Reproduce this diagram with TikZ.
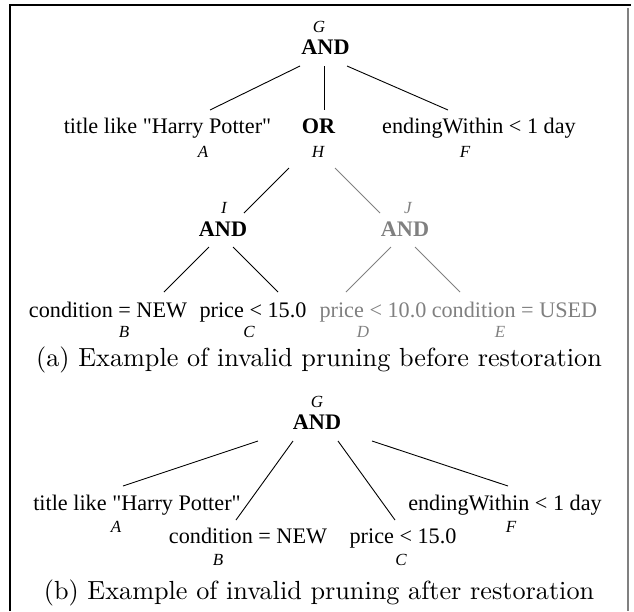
\documentclass[tikz,border=0pt]{standalone}
\usepackage{fontspec}
\usepackage{tikz}
\usetikzlibrary{calc}
\newfontfamily\treefont{Liberation Serif}
\newfontfamily\capfont{lmroman10-regular.otf}
\definecolor{prunedgray}{gray}{0.5}

\begin{document}
\begin{tikzpicture}[x=1pt,y=-1pt,
			op node/.style={font=\treefont\fontsize{22.2}{24}\selectfont\bfseries,inner sep=0pt,anchor=base},
			leaf node/.style={font=\treefont\fontsize{22.2}{24}\selectfont,inner sep=0pt,anchor=base},
			tag node/.style={font=\treefont\fontsize{17}{18}\selectfont\itshape,inner sep=0pt,anchor=base},
			caption node/.style={font=\capfont\fontsize{26.2}{30}\selectfont,inner sep=0pt,anchor=base},
			pruned/.style={prunedgray},
			branch/.style={line width=0.9pt}]
			\useasboundingbox (0,0) rectangle (634,611);
			\draw[line width=1.3pt] (10,611) -- (10,5) -- (631,5);
			\draw[line width=1.3pt, prunedgray] (628,8) -- (628,611);
			
			\node[tag node] (lG) at (319,32) {G};
			\node[op node] (G) at (325.5,54) {AND};
			\node[leaf node] (A) at (167.5,133) {title like "Harry Potter"};
			\node[tag node] (lA) at (203,157) {A};
			\node[op node] (H) at (318.5,133) {OR};
			\node[tag node] (lH) at (318,157) {H};
			\node[leaf node] (F) at (479,133) {endingWithin < 1 day};
			\node[tag node] (lF) at (465,157) {F};
			\node[tag node] (lI) at (224,213) {I};
			\node[op node] (I) at (223,236) {AND};
			\node[tag node, pruned] (lJ) at (408,213) {J};
			\node[op node, pruned] (J) at (405,236) {AND};
			\node[leaf node] (B) at (108,317) {condition = NEW};
			\node[tag node] (lB) at (124,337) {B};
			\node[leaf node] (C) at (253,317) {price < 15.0};
			\node[tag node] (lC) at (249,337) {C};
			\node[leaf node, pruned] (D) at (373,317) {price < 10.0};
			\node[tag node, pruned] (lD) at (363,337) {D};
			\node[leaf node, pruned] (E) at (514.5,317) {condition = USED};
			\node[tag node, pruned] (lE) at (500,337) {E};
			\draw[branch] ($(G.base)+(-25.5,12)$) -- ($(A.base)+(42.5,-23)$);
			\draw[branch] ($(G.base)+(-1.5,12)$) -- ($(H.base)+(5.5,-23)$);
			\draw[branch] ($(G.base)+(21.5,12)$) -- ($(F.base)+(-31,-23)$);
			\draw[branch] ($(H.base)+(-29.5,35)$) -- ($(I.base)+(21,-23)$);
			\draw[branch, pruned] ($(H.base)+(16.5,35)$) -- ($(J.base)+(-25,-23)$);
			\draw[branch] ($(I.base)+(-14,11)$) -- ($(B.base)+(56,-25)$);
			\draw[branch] ($(I.base)+(10,11)$) -- ($(C.base)+(25,-25)$);
			\draw[branch, pruned] ($(J.base)+(-14,11)$) -- ($(D.base)+(-27,-25)$);
			\draw[branch, pruned] ($(J.base)+(10,11)$) -- ($(E.base)+(-54.5,-25)$);
			\node[caption node] (capA) at (319,366) {(a) Example of invalid pruning before restoration};
			
			\node[tag node] (lG2) at (317,407) {G};
			\node[op node] (G2) at (317,429) {AND};
			\node[leaf node] (A2) at (137,510) {title like "Harry Potter"};
			\node[tag node] (lA2) at (116,532) {A};
			\node[leaf node] (B2) at (248,543) {condition = NEW};
			\node[tag node] (lB2) at (218,565) {B};
			\node[leaf node] (C2) at (403,543) {price < 15.0};
			\node[tag node] (lC2) at (401,565) {C};
			\node[leaf node] (F2) at (505,510) {endingWithin < 1 day};
			\node[tag node] (lF2) at (511,532) {F};
			\draw[branch] ($(G2.base)+(-59,12)$) -- ($(A2.base)+(-14,-24)$);
			\draw[branch] ($(G2.base)+(-24,12)$) -- ($(B2.base)+(-12,-23)$);
			\draw[branch] ($(G2.base)+(21,12)$) -- ($(C2.base)+(-8,-23)$);
			\draw[branch] ($(G2.base)+(55,12)$) -- ($(F2.base)+(3,-24)$);
			\node[caption node] (capB) at (319,599) {(b) Example of invalid pruning after restoration};
		\end{tikzpicture}
\end{document}
